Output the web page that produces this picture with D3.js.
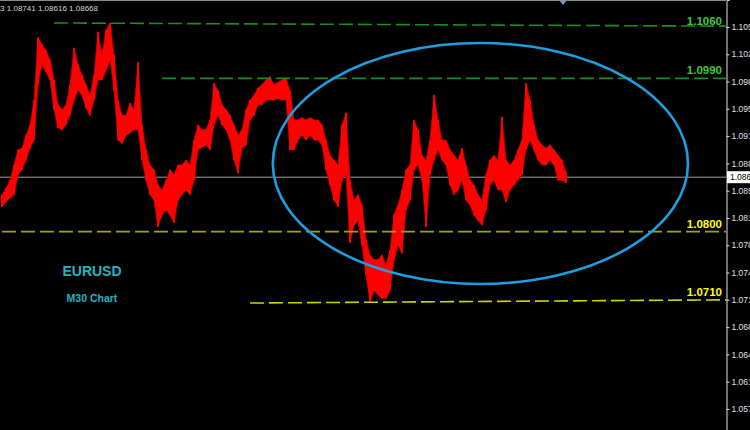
<html>
<head>
<script src='https://d3js.org/d3.v7.min.js'></script>
<style>
  body { margin: 0; background: #000; }
  text { font-family: "Liberation Sans", Arial, sans-serif; }
</style>
</head>
<body>
<svg width=750 height=430 id="chart"></svg>
<script>

// bar highs / lows (M30, one entry per ~4 bars of the screen)
var highs = [
1.0845,1.0853,1.0863,1.0882,1.0901,1.0903,1.0919,1.0932,1.0963,1.1041,
1.1032,1.1025,1.1013,1.0988,1.0957,1.0951,1.0957,1.0982,1.1028,1.1007,
1.0994,1.0982,1.0969,1.0994,1.1048,1.1019,1.1050,1.1059,1.1019,1.0963,
1.0944,1.0944,1.0959,1.0951,1.1010,1.0932,1.0901,1.0882,1.0876,1.0857,
1.0851,1.0863,1.0876,1.0870,1.0882,1.0882,1.0888,1.0882,1.0913,1.0932,
1.0926,1.0926,1.0938,1.0984,1.0975,1.0957,1.0951,1.0944,1.0932,1.0919,
1.0926,1.0951,1.0963,1.0969,1.0978,1.0982,1.0988,1.0992,1.0982,1.0985,
1.0988,1.0990,1.0975,1.0938,1.0938,1.0941,1.0938,1.0941,1.0938,1.0938,
1.0932,1.0913,1.0894,1.0888,1.0882,1.0932,1.0947,1.0863,1.0838,1.0845,
1.0832,1.0789,1.0770,1.0764,1.0764,1.0770,1.0757,1.0776,1.0820,1.0832,
1.0851,1.0876,1.0882,1.0938,1.0926,1.0894,1.0888,1.0913,1.0969,1.0938,
1.0913,1.0913,1.0901,1.0894,1.0888,1.0903,1.0882,1.0863,1.0857,1.0845,
1.0838,1.0870,1.0888,1.0894,1.0888,1.0942,1.0888,1.0882,1.0888,1.0901,
1.0913,1.0984,1.0963,1.0932,1.0913,1.0907,1.0903,1.0907,1.0901,1.0894,
1.0888,1.0873];

var lows = [
1.0830,1.0836,1.0841,1.0845,1.0870,1.0876,1.0888,1.0903,1.0913,1.0982,
1.1007,1.0998,1.0988,1.0951,1.0928,1.0926,1.0932,1.0944,1.0963,1.0975,
1.0969,1.0953,1.0944,1.0963,1.0988,1.0988,1.1000,1.1013,1.0975,1.0913,
1.0909,1.0919,1.0922,1.0926,1.0926,1.0888,1.0863,1.0845,1.0838,1.0805,
1.0820,1.0826,1.0820,1.0810,1.0838,1.0845,1.0851,1.0845,1.0863,1.0901,
1.0904,1.0907,1.0901,1.0932,1.0944,1.0932,1.0926,1.0913,1.0888,1.0872,
1.0903,1.0907,1.0938,1.0944,1.0957,1.0957,1.0963,1.0963,1.0963,1.0965,
1.0963,1.0963,1.0901,1.0901,1.0913,1.0919,1.0913,1.0919,1.0913,1.0913,
1.0907,1.0876,1.0857,1.0838,1.0830,1.0863,1.0870,1.0785,1.0807,1.0813,
1.0782,1.0745,1.0711,1.0726,1.0720,1.0716,1.0716,1.0726,1.0764,1.0782,
1.0772,1.0826,1.0838,1.0876,1.0882,1.0863,1.0805,1.0870,1.0888,1.0901,
1.0888,1.0882,1.0857,1.0845,1.0851,1.0863,1.0838,1.0832,1.0820,1.0813,
1.0807,1.0826,1.0857,1.0863,1.0851,1.0851,1.0836,1.0851,1.0857,1.0863,
1.0870,1.0901,1.0913,1.0901,1.0888,1.0882,1.0882,1.0888,1.0882,1.0863,
1.0863,1.0860];

var lastBar = ["1.08633", "1.08741", "1.08616", "1.08668"];
var lastClose = 1.08668;

// right price scale
var priceTicks = [1.1054,1.1020,1.0986,1.0952,1.0918,1.0884,1.0850,1.0816,
                  1.0782,1.0748,1.0714,1.0680,1.0646,1.0612,1.0578];

// hand drawn levels: label, start bar, price at start, price at right edge
var levelLabels = ["1.1060", "1.0990", "1.0800", "1.0710"];
var levelStartBar = [13, 40, 0, 62];
var levelPriceStart = [1.1059, 1.0990, 1.0799, 1.0710];
var levelPriceEnd = [1.1055, 1.0990, 1.0799, 1.0714];
var levelColors = ["#1f8c1f", "#1f8c1f", "#a3a300", "#d2d200"];
var labelColors = ["#3ec83e", "#3ec83e", "#ffff00", "#ffff00"];

var width = 726;
var height = 430;

var x = d3.scaleLinear().domain([0, 181]).range([2, width]);
var y = d3.scaleLinear().domain([1.05518, 1.10876]).range([height, 0]);

var svg = d3.select("#chart");

svg.append("rect")
  .attr("width", 750).attr("height", 430)
  .attr("fill", "#000");

// top frame
svg.append("line")
  .attr("x1", 0).attr("x2", width)
  .attr("y1", 0.5).attr("y2", 0.5)
  .attr("stroke", "#8a8a8a");

// current price line
svg.append("line")
  .attr("x1", 0).attr("x2", width)
  .attr("y1", y(lastClose)).attr("y2", y(lastClose))
  .attr("stroke", "#a0a0a0")
  .attr("stroke-width", 1);

// price band between highs and lows
var band = d3.area()
  .x(function(d,i) {return x(i);})
  .y0(function(d,i) {return y(lows[i]);})
  .y1(function(d,i) {return y(d);});

svg.append("path")
  .datum(highs)
  .attr("d", band)
  .attr("fill", "#ff0000")
  .attr("stroke", "#d00000")
  .attr("stroke-width", 0.8);

// bars
svg.append("g")
  .selectAll("rect")
  .data(highs)
  .enter()
  .append("rect")
    .attr("x", function(d,i) {return x(i) - 1;})
    .attr("width", 2)
    .attr("y", function(d,i) {return y(d);})
    .attr("height", function(d,i) {return y(lows[i]) - y(d);})
    .attr("fill", "#ff0000");

// levels
levelLabels.forEach(function(lab, i) {
  svg.append("line")
    .attr("x1", x(levelStartBar[i]))
    .attr("x2", width)
    .attr("y1", y(levelPriceStart[i]))
    .attr("y2", y(levelPriceEnd[i]))
    .attr("stroke", levelColors[i])
    .attr("stroke-width", 1.6)
    .attr("stroke-dasharray", "14,5");

  svg.append("text")
    .attr("x", 722)
    .attr("y", y(levelPriceEnd[i]) - (i === 0 ? 1 : 4))
    .attr("text-anchor", "end")
    .style("font-size", "11.5px")
    .style("font-weight", "bold")
    .style("fill", labelColors[i])
    .text(lab);
});

// ellipse round the recent range
var ellCenterBar = 119.6, ellCenterPrice = 1.08839;
var ellHalfBars = 51.9, ellHalfPrice = 0.01501;
svg.append("ellipse")
  .attr("cx", x(ellCenterBar))
  .attr("cy", y(ellCenterPrice))
  .attr("rx", x(ellCenterBar + ellHalfBars) - x(ellCenterBar))
  .attr("ry", y(ellCenterPrice - ellHalfPrice) - y(ellCenterPrice))
  .attr("fill", "none")
  .attr("stroke", "#1c9ee0")
  .attr("stroke-width", 2.6);

// chart shift marker
var mx = x(highs.length - 1) - 3;
svg.append("path")
  .attr("d", "M" + (mx - 4) + ",0 L" + (mx + 4) + ",0 L" + mx + ",5 Z")
  .attr("fill", "#8a95a5");

// symbol text
svg.append("text")
  .attr("x", 92).attr("y", 276)
  .attr("text-anchor", "middle")
  .style("font-size", "14px").style("font-weight", "bold")
  .style("fill", "#1fb5c3")
  .text("EURUSD");

svg.append("text")
  .attr("x", 92).attr("y", 302)
  .attr("text-anchor", "middle")
  .style("font-size", "10.5px").style("font-weight", "bold")
  .style("fill", "#1fb5c3")
  .text("M30 Chart");

// OHLC header
svg.append("text")
  .attr("x", 98).attr("y", 11)
  .attr("text-anchor", "end")
  .style("font-size", "8px")
  .style("fill", "#d8d8d8")
  .text("EURUSD,M30  " + lastBar.join(" "));

// right axis
var axis = svg.append("g")
  .attr("transform", "translate(" + (width + 0.5) + ",0)")
  .call(d3.axisRight(y).tickValues(priceTicks).tickSize(3).tickPadding(2)
        .tickFormat(d3.format(".4f")));
axis.select(".domain").attr("stroke", "#e0e0e0");
axis.selectAll(".tick line").attr("stroke", "#e0e0e0");
axis.selectAll(".tick text")
  .attr("fill", "#e0e0e0")
  .style("font-size", "8.5px")
  .style("font-family", "'Liberation Sans', Arial, sans-serif");

// last price box
svg.append("rect")
  .attr("x", width + 1).attr("y", y(lastClose) - 6)
  .attr("width", 30).attr("height", 12)
  .attr("fill", "#ffffff");
svg.append("text")
  .attr("x", width + 4).attr("y", y(lastClose) + 3)
  .style("font-size", "8.5px")
  .style("fill", "#000")
  .text(d3.format(".4f")(lastClose));

</script>
</body>
</html>
